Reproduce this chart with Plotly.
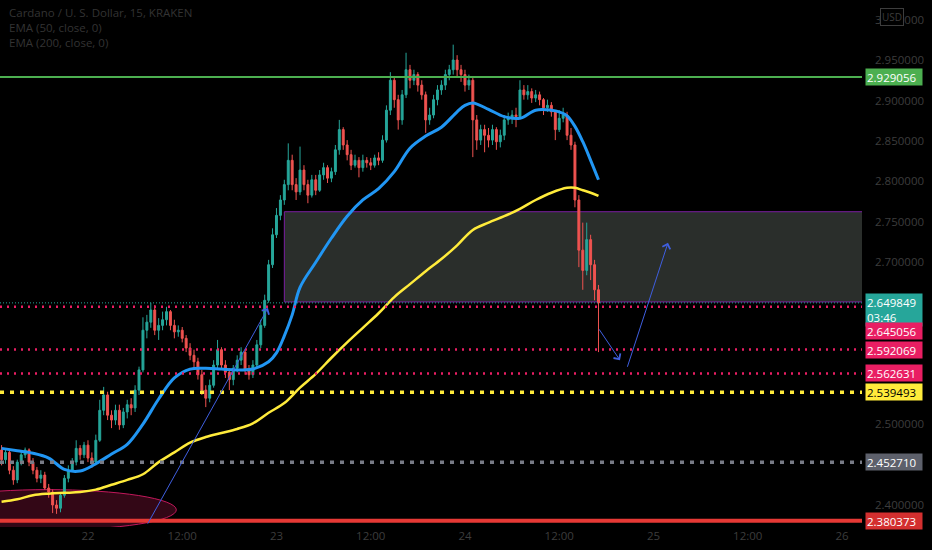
import pandas as pd
import plotly.graph_objects as go

# ADA/USD candles (30-minute steps, Aug 2021)
candle_start = "2021-08-21 13:00"

open_ = [
    2.468, 2.456, 2.465, 2.443, 2.431, 2.453, 2.462, 2.468, 2.453, 2.443,
    2.433, 2.437, 2.421, 2.416, 2.400, 2.396, 2.412, 2.433, 2.443, 2.453,
    2.470, 2.462, 2.474, 2.458, 2.453, 2.480, 2.517, 2.536, 2.511, 2.505,
    2.517, 2.499, 2.515, 2.524, 2.520, 2.542, 2.567, 2.616, 2.626, 2.641,
    2.616, 2.622, 2.629, 2.639, 2.622, 2.614, 2.616, 2.606, 2.594, 2.585,
    2.577, 2.561, 2.542, 2.532, 2.548, 2.573, 2.592, 2.573, 2.564, 2.555,
    2.569, 2.579, 2.589, 2.567, 2.561, 2.573, 2.598, 2.622, 2.653, 2.697,
    2.734, 2.758, 2.777, 2.796, 2.826, 2.796, 2.787, 2.814, 2.796, 2.783,
    2.802, 2.789, 2.808, 2.817, 2.804, 2.812, 2.839, 2.864, 2.845, 2.833,
    2.820, 2.826, 2.817, 2.826, 2.823, 2.820, 2.829, 2.826, 2.851, 2.888,
    2.925, 2.901, 2.876, 2.907, 2.938, 2.925, 2.932, 2.919, 2.907, 2.876,
    2.882, 2.901, 2.913, 2.919, 2.932, 2.938, 2.950, 2.938, 2.932, 2.919,
    2.925, 2.876, 2.851, 2.864, 2.857, 2.851, 2.864, 2.849, 2.857, 2.876,
    2.878, 2.882, 2.880, 2.913, 2.907, 2.911, 2.903, 2.907, 2.901, 2.891,
    2.894, 2.886, 2.864, 2.878, 2.882, 2.857, 2.845, 2.777, 2.715, 2.690,
    2.728, 2.697, 2.666,
]
high = [
    2.474, 2.470, 2.468, 2.448, 2.456, 2.468, 2.471, 2.470, 2.458, 2.447,
    2.443, 2.441, 2.426, 2.419, 2.406, 2.416, 2.437, 2.449, 2.458, 2.480,
    2.474, 2.478, 2.480, 2.465, 2.487, 2.530, 2.546, 2.540, 2.517, 2.524,
    2.524, 2.520, 2.530, 2.532, 2.548, 2.571, 2.632, 2.635, 2.650, 2.647,
    2.631, 2.639, 2.645, 2.641, 2.629, 2.622, 2.620, 2.610, 2.600, 2.592,
    2.582, 2.567, 2.548, 2.555, 2.579, 2.604, 2.595, 2.579, 2.569, 2.573,
    2.585, 2.595, 2.592, 2.573, 2.579, 2.604, 2.629, 2.660, 2.703, 2.742,
    2.767, 2.783, 2.802, 2.847, 2.833, 2.804, 2.843, 2.820, 2.802, 2.808,
    2.808, 2.814, 2.823, 2.820, 2.817, 2.845, 2.876, 2.867, 2.851, 2.839,
    2.833, 2.830, 2.833, 2.830, 2.829, 2.833, 2.836, 2.857, 2.894, 2.935,
    2.928, 2.907, 2.913, 2.959, 2.944, 2.938, 2.935, 2.925, 2.911, 2.891,
    2.907, 2.919, 2.925, 2.938, 2.944, 2.969, 2.956, 2.944, 2.938, 2.932,
    2.928, 2.882, 2.870, 2.870, 2.866, 2.870, 2.867, 2.864, 2.882, 2.885,
    2.888, 2.891, 2.925, 2.919, 2.919, 2.915, 2.913, 2.911, 2.903, 2.901,
    2.898, 2.888, 2.888, 2.891, 2.886, 2.866, 2.849, 2.783, 2.749, 2.749,
    2.734, 2.703, 2.672,
]
low = [
    2.449, 2.451, 2.438, 2.425, 2.427, 2.449, 2.458, 2.448, 2.438, 2.428,
    2.427, 2.419, 2.409, 2.390, 2.389, 2.391, 2.409, 2.428, 2.441, 2.449,
    2.456, 2.458, 2.453, 2.446, 2.449, 2.478, 2.511, 2.505, 2.495, 2.499,
    2.493, 2.495, 2.507, 2.511, 2.515, 2.536, 2.564, 2.606, 2.619, 2.610,
    2.604, 2.616, 2.622, 2.616, 2.606, 2.608, 2.601, 2.589, 2.579, 2.569,
    2.555, 2.536, 2.521, 2.527, 2.545, 2.567, 2.567, 2.557, 2.542, 2.548,
    2.564, 2.573, 2.561, 2.555, 2.557, 2.569, 2.594, 2.619, 2.650, 2.693,
    2.730, 2.752, 2.771, 2.789, 2.789, 2.777, 2.783, 2.789, 2.773, 2.780,
    2.783, 2.787, 2.802, 2.798, 2.799, 2.808, 2.833, 2.839, 2.826, 2.814,
    2.817, 2.805, 2.812, 2.817, 2.814, 2.817, 2.820, 2.823, 2.848, 2.882,
    2.891, 2.864, 2.870, 2.903, 2.915, 2.919, 2.911, 2.901, 2.860, 2.870,
    2.878, 2.894, 2.907, 2.913, 2.925, 2.932, 2.928, 2.923, 2.911, 2.913,
    2.830, 2.839, 2.845, 2.836, 2.842, 2.845, 2.839, 2.842, 2.851, 2.870,
    2.871, 2.867, 2.878, 2.901, 2.901, 2.897, 2.898, 2.894, 2.882, 2.886,
    2.880, 2.851, 2.861, 2.873, 2.851, 2.839, 2.768, 2.694, 2.666, 2.684,
    2.678, 2.653, 2.589,
]
close = [
    2.456, 2.465, 2.443, 2.431, 2.453, 2.462, 2.468, 2.453, 2.443, 2.433,
    2.437, 2.421, 2.416, 2.400, 2.396, 2.412, 2.433, 2.443, 2.453, 2.470,
    2.462, 2.474, 2.458, 2.453, 2.480, 2.517, 2.536, 2.511, 2.505, 2.517,
    2.499, 2.515, 2.524, 2.520, 2.542, 2.567, 2.616, 2.626, 2.641, 2.616,
    2.622, 2.629, 2.639, 2.622, 2.614, 2.616, 2.606, 2.594, 2.585, 2.577,
    2.561, 2.542, 2.532, 2.548, 2.573, 2.592, 2.573, 2.564, 2.555, 2.569,
    2.579, 2.589, 2.567, 2.561, 2.573, 2.598, 2.622, 2.653, 2.697, 2.734,
    2.758, 2.777, 2.796, 2.826, 2.796, 2.787, 2.814, 2.796, 2.783, 2.802,
    2.789, 2.808, 2.817, 2.804, 2.812, 2.839, 2.864, 2.845, 2.833, 2.820,
    2.826, 2.817, 2.826, 2.823, 2.820, 2.829, 2.826, 2.851, 2.888, 2.925,
    2.901, 2.876, 2.907, 2.938, 2.925, 2.932, 2.919, 2.907, 2.876, 2.882,
    2.901, 2.913, 2.919, 2.932, 2.938, 2.950, 2.938, 2.932, 2.919, 2.925,
    2.876, 2.851, 2.864, 2.857, 2.851, 2.864, 2.849, 2.857, 2.876, 2.878,
    2.882, 2.880, 2.913, 2.907, 2.911, 2.903, 2.907, 2.901, 2.891, 2.894,
    2.886, 2.864, 2.878, 2.882, 2.857, 2.845, 2.777, 2.715, 2.690, 2.728,
    2.697, 2.666, 2.6498,
]

# EMA lines
ema50_time = [
    "2021-08-21 13:00", "2021-08-21 15:00", "2021-08-21 17:00", "2021-08-21 19:00",
    "2021-08-21 21:00", "2021-08-21 23:00", "2021-08-22 01:00", "2021-08-22 03:00",
    "2021-08-22 05:00", "2021-08-22 07:00", "2021-08-22 09:00", "2021-08-22 11:00",
    "2021-08-22 13:00", "2021-08-22 15:00", "2021-08-22 17:00", "2021-08-22 19:00",
    "2021-08-22 21:00", "2021-08-22 23:00", "2021-08-23 00:00", "2021-08-23 01:00",
    "2021-08-23 02:00", "2021-08-23 03:00", "2021-08-23 05:00", "2021-08-23 07:00",
    "2021-08-23 09:00", "2021-08-23 11:00", "2021-08-23 13:00", "2021-08-23 15:00",
    "2021-08-23 17:00", "2021-08-23 19:00", "2021-08-23 21:00", "2021-08-23 23:00",
    "2021-08-24 00:00", "2021-08-24 01:00", "2021-08-24 03:00", "2021-08-24 05:00",
    "2021-08-24 07:00", "2021-08-24 09:00", "2021-08-24 11:00", "2021-08-24 12:00",
    "2021-08-24 13:00", "2021-08-24 14:00", "2021-08-24 15:00", "2021-08-24 16:00",
    "2021-08-24 17:00",
]
ema50 = [
    2.470, 2.467, 2.464, 2.458, 2.444, 2.442, 2.451, 2.463, 2.475, 2.500,
    2.531, 2.557, 2.568, 2.569, 2.568, 2.567, 2.568, 2.577, 2.588, 2.609,
    2.635, 2.669, 2.700, 2.730, 2.757, 2.777, 2.791, 2.812, 2.841, 2.856,
    2.867, 2.886, 2.894, 2.897, 2.889, 2.880, 2.878, 2.888, 2.888, 2.886,
    2.881, 2.868, 2.849, 2.826, 2.802,
]
ema200_time = [
    "2021-08-21 13:00", "2021-08-21 15:00", "2021-08-21 17:00", "2021-08-21 19:00",
    "2021-08-21 21:00", "2021-08-21 23:00", "2021-08-22 01:00", "2021-08-22 03:00",
    "2021-08-22 05:00", "2021-08-22 07:00", "2021-08-22 09:00", "2021-08-22 11:00",
    "2021-08-22 13:00", "2021-08-22 15:00", "2021-08-22 17:00", "2021-08-22 19:00",
    "2021-08-22 21:00", "2021-08-22 23:00", "2021-08-23 01:00", "2021-08-23 03:00",
    "2021-08-23 05:00", "2021-08-23 07:00", "2021-08-23 09:00", "2021-08-23 11:00",
    "2021-08-23 13:00", "2021-08-23 15:00", "2021-08-23 17:00", "2021-08-23 19:00",
    "2021-08-23 21:00", "2021-08-23 23:00", "2021-08-24 01:00", "2021-08-24 03:00",
    "2021-08-24 05:00", "2021-08-24 07:00", "2021-08-24 09:00", "2021-08-24 11:00",
    "2021-08-24 13:00", "2021-08-24 14:00", "2021-08-24 15:00", "2021-08-24 16:00",
    "2021-08-24 17:00",
]
ema200 = [
    2.404, 2.407, 2.412, 2.414, 2.415, 2.416, 2.419, 2.425, 2.431, 2.438,
    2.453, 2.465, 2.477, 2.484, 2.489, 2.494, 2.501, 2.514, 2.526, 2.545,
    2.562, 2.582, 2.601, 2.619, 2.637, 2.657, 2.673, 2.689, 2.704, 2.721,
    2.740, 2.749, 2.757, 2.766, 2.777, 2.786, 2.792, 2.792, 2.789, 2.786,
    2.782,
]

# horizontal levels drawn on the chart
level_resistance = 2.929056
levels_red_dotted = [2.645056, 2.592069, 2.562631]
level_yellow = 2.539493
level_gray = 2.452710
level_support = 2.380373
last_price = 2.649849
countdown = "03:46"

# drawn zone, ellipse and arrows
zone_start = "2021-08-23 01:00"
zone_top = 2.7625
zone_bottom = 2.651
ellipse_time = ["2021-08-21 02:30", "2021-08-22 11:15"]
ellipse_price = [2.369, 2.419]
arrows = [
    ("2021-08-22 07:30", 2.375, "2021-08-22 22:55", 2.6435),
    ("2021-08-24 16:57", 2.619, "2021-08-24 19:44", 2.579),
    ("2021-08-24 20:37", 2.569, "2021-08-25 01:51", 2.724),
]

# axis ticks
x_tick_times = ["2021-08-22 00:00", "2021-08-22 12:00", "2021-08-23 00:00",
                "2021-08-23 12:00", "2021-08-24 00:00", "2021-08-24 12:00",
                "2021-08-25 00:00", "2021-08-25 12:00", "2021-08-26 00:00"]
x_tick_text = ["22", "12:00", "23", "12:00", "24", "12:00", "25", "12:00", "26"]
y_tick_vals = [2.40, 2.50, 2.70, 2.75, 2.80, 2.85, 2.90, 2.95, 3.00]

times = pd.date_range(candle_start, periods=len(close), freq="30min")

dim = "#3d3d3d"
font_family = "Open Sans"

fig = go.Figure()
fig.add_trace(go.Candlestick(
    x=times, open=open_, high=high, low=low, close=close,
    increasing=dict(line=dict(color="#26a69a", width=1), fillcolor="#26a69a"),
    decreasing=dict(line=dict(color="#ef5350", width=1), fillcolor="#ef5350"),
    whiskerwidth=0,
))
fig.add_trace(go.Scatter(x=ema200_time, y=ema200, mode="lines",
                         line=dict(color="#ffeb3b", width=2.5, shape="spline")))
fig.add_trace(go.Scatter(x=ema50_time, y=ema50, mode="lines",
                         line=dict(color="#2196f3", width=3, shape="spline")))

# zone and ellipse under the candles
fig.add_shape(type="rect", xref="x", x0=zone_start, x1="2021-08-26 06:00", yref="y",
              y0=zone_bottom, y1=zone_top, layer="below",
              fillcolor="#2a2e2b", line=dict(color="#7b1fa2", width=1))
fig.add_shape(type="circle", xref="x", yref="y",
              x0=ellipse_time[0], x1=ellipse_time[1],
              y0=ellipse_price[0], y1=ellipse_price[1], layer="below",
              fillcolor="rgba(233,30,99,0.22)", line=dict(color="#c2185b", width=1))


def hline(price, color, width, dash="solid"):
    fig.add_shape(type="line", xref="paper", x0=0, x1=1, yref="y",
                  y0=price, y1=price, line=dict(color=color, width=width, dash=dash))


hline(last_price, "#26a69a", 1, "1px,2px")
hline(level_resistance, "#4caf50", 2)
for lv in levels_red_dotted:
    hline(lv, "#e91e63", 2.5, "2px,5px")
hline(level_yellow, "#ffeb3b", 3.5, "4px,6px")
hline(level_gray, "#787b86", 3.5, "4px,6px")
hline(level_support, "#e53935", 4)

for t0, p0, t1, p1 in arrows:
    fig.add_annotation(x=t1, y=p1, ax=t0, ay=p0, xref="x", yref="y",
                       axref="x", ayref="y", text="", showarrow=True,
                       arrowhead=4, arrowsize=1.6, arrowwidth=1, arrowcolor="#3f5fe0")


def price_label(price, text, bg, fg="#ffffff", yshift=0, height=14):
    fig.add_annotation(x=1, xref="paper", xanchor="left", xshift=3,
                       y=price, yref="y", yanchor="middle", yshift=yshift,
                       text=text, showarrow=False, bgcolor=bg, borderpad=1,
                       width=54, height=height, align="left",
                       font=dict(color=fg, size=11.5, family=font_family))


price_label(level_resistance, f"{level_resistance:.6f}", "#4caf50")
price_label(last_price, f"{last_price:.6f}<br>{countdown}", "#26a69a",
            yshift=-7, height=30)
price_label(levels_red_dotted[0], f"{levels_red_dotted[0]:.6f}", "#e91e63", yshift=-24)
for lv in levels_red_dotted[1:]:
    price_label(lv, f"{lv:.6f}", "#e91e63")
price_label(level_yellow, f"{level_yellow:.6f}", "#ffeb3b", fg="#000000")
price_label(level_gray, f"{level_gray:.6f}", "#5d606b")
price_label(level_support, f"{level_support:.6f}", "#d32f2f")

# legend text in the top-left corner
for i, txt in enumerate(["Cardano / U. S. Dollar, 15, KRAKEN",
                         "EMA (50, close, 0)", "EMA (200, close, 0)"]):
    fig.add_annotation(x=0.008, xref="paper", xanchor="left",
                       y=1 - (13 + 15 * i) / 527, yref="paper", yanchor="middle",
                       text=txt, showarrow=False,
                       font=dict(color="#333333", size=11.5, family=font_family))

fig.add_annotation(x=1.049, xref="paper", y=0.985, yref="paper", text="USD",
                   showarrow=False, bgcolor="#000000", bordercolor=dim,
                   borderwidth=1, borderpad=1,
                   font=dict(color=dim, size=10, family=font_family))

fig.update_layout(
    width=932, height=550,
    margin=dict(l=0, r=70, t=0, b=23, autoexpand=False),
    paper_bgcolor="#000000", plot_bgcolor="#000000",
    showlegend=False,
    font=dict(family=font_family, color=dim, size=11),
    xaxis=dict(type="date", range=["2021-08-21 12:48", "2021-08-26 02:33"],
               tickvals=x_tick_times, ticktext=x_tick_text,
               showgrid=False, zeroline=False, showline=False,
               rangeslider=dict(visible=False),
               tickfont=dict(color=dim, size=11.5)),
    yaxis=dict(side="right", range=[2.3728, 3.0242], tickvals=y_tick_vals,
               tickformat=".6f", showgrid=False, zeroline=False, showline=False,
               ticklabelstandoff=12, tickfont=dict(color=dim, size=11.5)),
)

# the page's default body margin would shift the chart by 8px
fig.write_html("out.html", config={"displayModeBar": False},
               post_script="document.body.style.margin='0';"
                           "document.body.style.background='#000';")
